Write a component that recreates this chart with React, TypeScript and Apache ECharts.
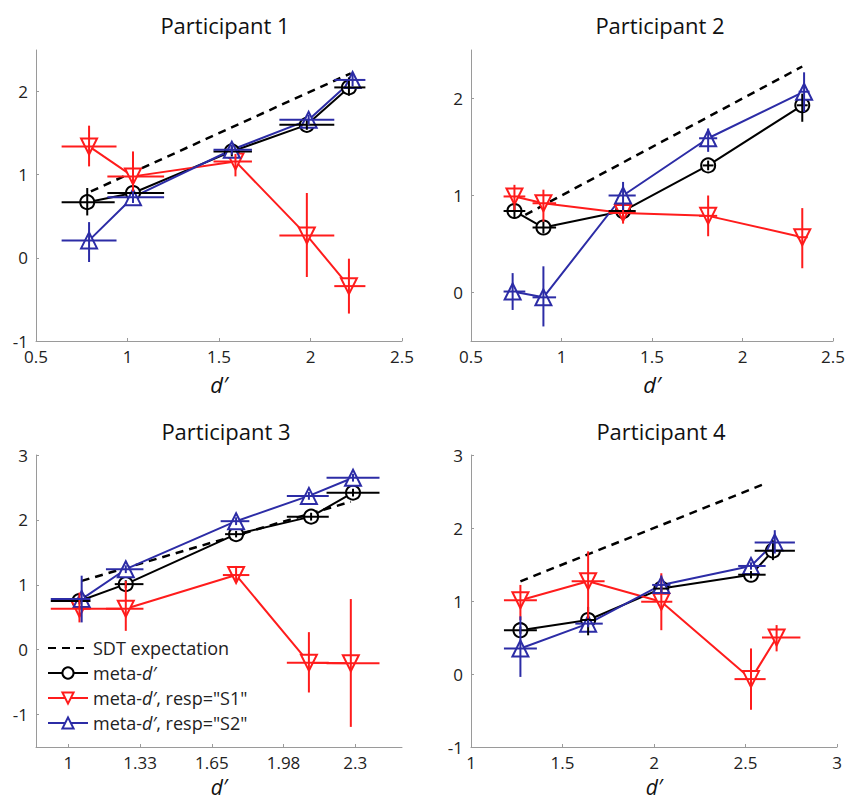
import React, { useEffect, useRef } from "react";
import * as echarts from "echarts";

// Each row: [d', meta-d', xLow, xHigh, yLow, yHigh]
const p1Black = [[0.78,0.67,0.64,0.93,0.51,0.84],[1.03,0.78,0.89,1.20,0.70,0.86],[1.57,1.28,1.47,1.68,1.22,1.34],[1.98,1.60,1.83,2.13,1.54,1.66],[2.21,2.05,2.13,2.30,1.95,2.17]];
const p1Blue = [[0.79,0.21,0.64,0.94,-0.05,0.43],[1.03,0.73,0.89,1.20,0.66,0.80],[1.57,1.30,1.47,1.68,1.24,1.36],[1.99,1.66,1.83,2.13,1.60,1.72],[2.23,2.14,2.13,2.30,2.06,2.22]];
const p1Red = [[0.79,1.34,0.64,0.94,1.10,1.59],[1.03,0.98,0.89,1.20,0.69,1.28],[1.59,1.16,1.47,1.68,0.98,1.25],[1.98,0.27,1.83,2.13,-0.23,0.78],[2.21,-0.34,2.13,2.30,-0.67,-0.01]];
const p1Sdt = [[0.8,0.8],[2.22,2.22]];

const p2Black = [[0.74,0.84,0.68,0.80,0.76,0.92],[0.90,0.67,0.84,0.97,0.61,0.73],[1.34,0.84,1.26,1.41,0.79,0.89],[1.81,1.31,1.78,1.84,1.26,1.36],[2.33,1.93,2.30,2.36,1.76,2.05]];
const p2Blue = [[0.73,0.01,0.68,0.80,-0.18,0.20],[0.90,-0.05,0.84,0.97,-0.35,0.27],[1.34,1.00,1.26,1.41,0.85,1.14],[1.81,1.59,1.76,1.86,1.45,1.69],[2.34,2.07,2.31,2.37,1.86,2.27]];
const p2Red = [[0.74,0.99,0.68,0.80,0.85,1.11],[0.90,0.92,0.84,0.97,0.73,1.06],[1.34,0.82,1.26,1.41,0.71,0.92],[1.81,0.79,1.76,1.86,0.58,1.00],[2.33,0.57,2.30,2.36,0.25,0.87]];
const p2Sdt = [[0.8,0.8],[2.33,2.33]];

const p3Black = [[1.05,0.75,0.92,1.10,0.70,0.80],[1.26,1.01,1.21,1.34,0.95,1.07],[1.76,1.78,1.71,1.80,1.73,1.83],[2.10,2.05,1.99,2.18,1.99,2.11],[2.29,2.42,2.17,2.41,2.36,2.48]];
const p3Blue = [[1.06,0.78,0.92,1.10,0.42,1.14],[1.26,1.24,1.17,1.34,1.18,1.30],[1.76,1.98,1.69,1.82,1.92,2.04],[2.09,2.37,1.99,2.18,2.31,2.43],[2.29,2.65,2.17,2.41,2.59,2.71]];
const p3Red = [[1.05,0.63,0.92,1.10,0.42,0.88],[1.26,0.63,1.17,1.34,0.29,1.06],[1.76,1.15,1.70,1.82,1.06,1.29],[2.09,-0.20,1.99,2.18,-0.66,0.27],[2.28,-0.21,2.17,2.41,-1.19,0.78]];
const p3Sdt = [[1.06,1.06],[2.28,2.28]];

const p4Black = [[1.27,0.60,1.18,1.36,0.55,0.65],[1.64,0.74,1.60,1.68,0.53,0.92],[2.04,1.17,2.00,2.08,1.12,1.22],[2.53,1.36,2.46,2.61,1.31,1.41],[2.65,1.69,2.55,2.77,1.56,1.83]];
const p4Blue = [[1.27,0.35,1.18,1.36,-0.04,0.79],[1.64,0.69,1.57,1.72,0.64,0.74],[2.04,1.22,1.99,2.09,1.10,1.35],[2.53,1.48,2.46,2.61,1.43,1.53],[2.66,1.80,2.55,2.77,1.65,1.97]];
const p4Red = [[1.27,1.01,1.18,1.36,0.74,1.22],[1.64,1.27,1.55,1.73,0.76,1.68],[2.04,0.99,1.93,2.10,0.60,1.38],[2.53,-0.07,2.44,2.61,-0.49,0.35],[2.67,0.50,2.59,2.80,0.31,0.67]];
const p4Sdt = [[1.27,1.27],[2.62,2.62]];

const titles = ["Participant 1", "Participant 2", "Participant 3", "Participant 4"];
const p1YTicks = [-1, 0, 1, 2];
const p2YTicks = [0, 1, 2];
const p3YTicks = [-1, 0, 1, 2, 3];
const p4YTicks = [-1, 0, 1, 2, 3];
const p3XTicks = [1, 1.325, 1.65, 1.975, 2.3];
const p3XLabels = ["1", "1.33", "1.65", "1.98", "2.3"];

const NAME_SDT = "SDT expectation";
const NAME_META = "meta-d′";
const NAME_S1 = 'meta-d′, resp="S1"';
const NAME_S2 = 'meta-d′, resp="S2"';

const BLACK = "#000000";
const RED = "#ff1c1c";
const BLUE = "#2c2ca6";
const FONT = "Open Sans";

export default function App() {
  const ref = useRef<HTMLDivElement>(null);
  useEffect(() => {
    if (!ref.current) return;
    const chart = echarts.init(ref.current, null, { renderer: "svg" });

    const panels = [
      { black: p1Black, blue: p1Blue, red: p1Red, sdt: p1Sdt },
      { black: p2Black, blue: p2Blue, red: p2Red, sdt: p2Sdt },
      { black: p3Black, blue: p3Blue, red: p3Red, sdt: p3Sdt },
      { black: p4Black, blue: p4Blue, red: p4Red, sdt: p4Sdt },
    ];
    const grids = [
      { left: 36, top: 50, width: 366, height: 291 },
      { left: 471, top: 50, width: 366, height: 291 },
      { left: 36, top: 455, width: 366, height: 292 },
      { left: 471, top: 455, width: 366, height: 292 },
    ];
    const titlePos = [[225, 25], [660, 25], [226, 431], [661, 431]];

    const axisCommon = {
      axisLine: { show: true, onZero: false, lineStyle: { color: "#9a9a9a", width: 1 } },
      axisTick: { show: true, inside: true, length: 3, lineStyle: { color: "#9a9a9a" } },
      splitLine: { show: false },
    };
    const labelStyle = { fontFamily: FONT, fontSize: 17, color: "#222" };

    const xRanges = [
      { min: 0.5, max: 2.5, interval: 0.5 },
      { min: 0.5, max: 2.5, interval: 0.5 },
      { min: 0.853, max: 2.512 },
      { min: 1, max: 3, interval: 0.5 },
    ];
    const yRanges = [
      { min: -1, max: 2.5, ticks: p1YTicks },
      { min: -0.5, max: 2.5, ticks: p2YTicks },
      { min: -1.5, max: 3, ticks: p3YTicks },
      { min: -1, max: 3, ticks: p4YTicks },
    ];

    const xAxis = xRanges.map((r, i) => {
      const base: any = {
        type: "value",
        gridIndex: i,
        min: r.min,
        max: r.max,
        name: "d′",
        nameLocation: "middle",
        nameGap: i < 2 ? 32 : 29,
        nameTextStyle: { fontFamily: FONT, fontSize: i < 2 ? 22 : 21, fontStyle: "italic", color: "#111" },
        ...axisCommon,
        axisLabel: { ...labelStyle, margin: 7, showMinLabel: true, showMaxLabel: true },
      };
      if (i === 2) {
        base.axisLabel = {
          ...base.axisLabel,
          customValues: p3XTicks,
          formatter: (v: number) => {
            const k = p3XTicks.findIndex((t) => Math.abs(t - v) < 1e-6);
            return k >= 0 ? p3XLabels[k] : "";
          },
        };
        base.axisTick = { ...axisCommon.axisTick, customValues: p3XTicks };
      } else {
        base.interval = r.interval;
      }
      return base;
    });

    const yAxis = yRanges.map((r, i) => ({
      type: "value",
      gridIndex: i,
      min: r.min,
      max: r.max,
      ...axisCommon,
      axisTick: { ...axisCommon.axisTick, customValues: r.ticks },
      axisLabel: { ...labelStyle, margin: 8, customValues: r.ticks },
    }));

    const errSeries = (data: number[][], color: string, i: number) => ({
      type: "custom",
      name: "err",
      xAxisIndex: i,
      yAxisIndex: i,
      z: 4,
      silent: true,
      encode: { x: 0, y: 1 },
      data,
      renderItem: (_p: any, api: any) => {
        const x = api.value(0), y = api.value(1);
        const a = api.coord([api.value(2), y]);
        const b = api.coord([api.value(3), y]);
        const c = api.coord([x, api.value(4)]);
        const d = api.coord([x, api.value(5)]);
        return {
          type: "group",
          children: [
            { type: "line", shape: { x1: a[0], y1: a[1], x2: b[0], y2: b[1] }, style: { stroke: color, lineWidth: 2 } },
            { type: "line", shape: { x1: c[0], y1: c[1], x2: d[0], y2: d[1] }, style: { stroke: color, lineWidth: 2 } },
          ],
        };
      },
    });

    const lineSeries = (name: string, data: number[][], color: string, symbol: string, rotate: number, i: number) => ({
      type: "line",
      name,
      xAxisIndex: i,
      yAxisIndex: i,
      z: 3,
      data: data.map((d) => [d[0], d[1]]),
      symbol,
      symbolSize: symbol === "emptyCircle" ? 14 : 16,
      symbolRotate: rotate,
      showSymbol: true,
      lineStyle: { color, width: 2 },
      itemStyle: { color, borderColor: color, borderWidth: 2 },
    });

    const series: any[] = [];
    panels.forEach((p, i) => {
      series.push({
        type: "line",
        name: NAME_SDT,
        xAxisIndex: i,
        yAxisIndex: i,
        z: 2,
        data: p.sdt,
        symbol: "circle",
        showSymbol: false,
        lineStyle: { color: BLACK, width: 2.5, type: [8, 6] },
        itemStyle: { color: "rgba(0,0,0,0)", borderColor: "rgba(0,0,0,0)", borderWidth: 0 },
      });
      series.push(lineSeries(NAME_META, p.black, BLACK, "emptyCircle", 0, i));
      series.push(lineSeries(NAME_S1, p.red, RED, "emptyTriangle", 180, i));
      series.push(lineSeries(NAME_S2, p.blue, BLUE, "emptyTriangle", 0, i));
      series.push(errSeries(p.black, BLACK, i));
      series.push(errSeries(p.red, RED, i));
      series.push(errSeries(p.blue, BLUE, i));
    });

    const graphic = titles.map((t, i) => ({
      type: "text",
      x: titlePos[i][0],
      y: titlePos[i][1],
      style: {
        text: t,
        fontFamily: FONT,
        fontSize: 22,
        fill: "#111",
        align: "center",
        verticalAlign: "middle",
        textAlign: "center",
        textVerticalAlign: "middle",
      },
    }));

    chart.setOption({
      animation: false,
      backgroundColor: "#ffffff",
      grid: grids.map((g) => ({ ...g, containLabel: false })),
      xAxis,
      yAxis,
      series,
      graphic,
      legend: {
        data: [NAME_SDT, NAME_META, NAME_S1, NAME_S2],
        orient: "vertical",
        left: 42,
        top: 634,
        itemWidth: 40,
        itemHeight: 14,
        itemGap: 7,
        selectedMode: false,
        textStyle: {
          fontFamily: FONT,
          fontSize: 18,
          color: "#222",
          rich: {
            n: { fontFamily: FONT, fontSize: 18, color: "#222", lineHeight: 20 },
            i: { fontFamily: FONT, fontSize: 18, color: "#222", fontStyle: "italic", lineHeight: 20 },
          },
        },
        formatter: (name: string) => {
          if (name === NAME_SDT) return "{n|" + name + "}";
          const rest = name.slice("meta-d′".length);
          return "{n|meta-}{i|d′}" + (rest ? "{n|" + rest + "}" : "");
        },
      },
    });

    return () => chart.dispose();
  }, []);

  return (
    <div
      ref={ref}
      style={{ position: "fixed", left: 0, top: 0, width: 848, height: 802, background: "#fff" }}
    />
  );
}
